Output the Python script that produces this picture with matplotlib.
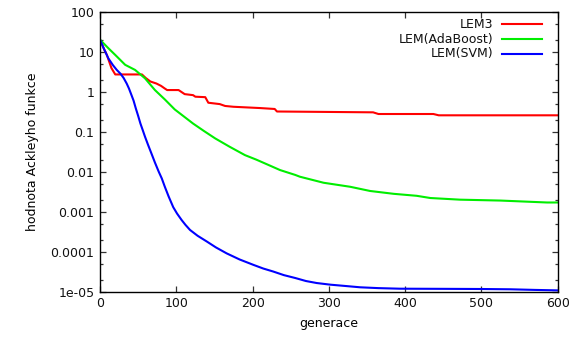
import matplotlib
matplotlib.use("Agg")
import matplotlib.pyplot as plt
from matplotlib.ticker import FixedLocator, FixedFormatter, LogLocator, NullFormatter
from matplotlib.lines import Line2D

# Best objective value found per generation
lem3_gen = [0, 5, 9, 15, 20, 55, 60, 66, 74, 80, 85, 88, 103, 111, 122, 125, 138, 142,
            157, 164, 175, 210, 229, 232, 358, 365, 437, 444, 600]
lem3_val = [20, 12, 8.3, 3.9, 2.7, 2.7, 2.2, 1.8, 1.6, 1.4, 1.2, 1.1, 1.1, 0.87, 0.82,
            0.75, 0.73, 0.53, 0.49, 0.44, 0.42, 0.39, 0.37, 0.32, 0.305, 0.277, 0.277,
            0.257, 0.257]

ada_gen = [0, 11, 20, 33, 46, 59, 72, 85, 98, 110, 122, 136, 151, 170, 190, 205, 221,
           236, 256, 262, 293, 328, 354, 385, 415, 433, 472, 525, 586, 600]
ada_val = [20, 12.2, 8.3, 4.7, 3.5, 2.16, 1.1, 0.64, 0.36, 0.24, 0.16, 0.105, 0.068,
           0.042, 0.026, 0.02, 0.0147, 0.011, 0.0083, 0.0075, 0.0053, 0.0042, 0.0033,
           0.0028, 0.0025, 0.0022, 0.0020, 0.0019, 0.0017, 0.0017]

svm_gen = [0, 5, 11, 17, 22, 27, 31, 35, 38, 41, 44, 47, 50, 53, 56, 59, 63, 67, 72,
           77, 81, 85, 90, 96, 101, 107, 112, 118, 128, 140, 152, 166, 183, 201, 214,
           227, 241, 256, 270, 284, 302, 320, 341, 365, 393, 450, 498, 538, 570, 600]
svm_val = [20, 12, 6.8, 4.6, 3.5, 2.8, 2.2, 1.6, 1.2, 0.85, 0.6, 0.38, 0.25, 0.16,
           0.11, 0.075, 0.047, 0.03, 0.017, 0.01, 0.0068, 0.0042, 0.0024, 0.0013,
           0.0009, 0.00062, 0.00047, 0.00035, 0.00025, 0.00018, 0.000128, 9.1e-5,
           6.4e-5, 4.7e-5, 3.8e-5, 3.2e-5, 2.6e-5, 2.2e-5, 1.85e-5, 1.65e-5, 1.5e-5,
           1.4e-5, 1.29e-5, 1.23e-5, 1.19e-5, 1.18e-5, 1.17e-5, 1.15e-5, 1.11e-5,
           1.08e-5]

series_labels = ["LEM3", "LEM(AdaBoost)", "LEM(SVM)"]
series_colors = ["#ff0000", "#00ee00", "#0000ff"]

y_ticks = [100, 10, 1, 0.1, 0.01, 0.001, 0.0001, 1e-5]
y_tick_labels = ["100", "10", "1", "0.1", "0.01", "0.001", "0.0001", "1e-05"]
x_ticks = [0, 100, 200, 300, 400, 500, 600]

plt.rcParams["font.family"] = ["DejaVu Sans"]
plt.rcParams["font.size"] = 9

fig = plt.figure(figsize=(5.82, 3.40), dpi=100)
ax = fig.add_axes([0.1718, 0.142, 0.7865, 0.8236])

lines = []
for gx, gy, lab, col in zip([lem3_gen, ada_gen, svm_gen],
                            [lem3_val, ada_val, svm_val],
                            series_labels, series_colors):
    ln, = ax.plot(gx, gy, color=col, lw=1.5, label=lab)
    lines.append(ln)

ax.set_yscale("log")
ax.set_xlim(0, 600)
ax.set_ylim(1e-5, 100)

ax.yaxis.set_major_locator(FixedLocator(y_ticks))
ax.yaxis.set_major_formatter(FixedFormatter(y_tick_labels))
ax.yaxis.set_minor_locator(LogLocator(base=10, subs=(2.0, 5.0), numticks=20))
ax.yaxis.set_minor_formatter(NullFormatter())
ax.xaxis.set_major_locator(FixedLocator(x_ticks))

ax.tick_params(which="both", direction="in", top=True, right=True,
               colors="#333333", labelcolor="#111111", width=0.9)
ax.tick_params(which="major", length=4.5, labelsize=9, pad=4)
ax.tick_params(which="minor", length=2.5)
for s in ax.spines.values():
    s.set_linewidth(1.0)
    s.set_color("black")

ax.set_xlabel("generace", fontsize=9, labelpad=5)
ax.set_ylabel("hodnota Ackleyho funkce", fontsize=9, labelpad=8)

# Key in the upper right: right-aligned names followed by line samples
rows_y = [0.955, 0.901, 0.849]
for ln, yy in zip(lines, rows_y):
    ax.text(0.8587, yy, ln.get_label(), transform=ax.transAxes,
            ha="right", va="center", fontsize=9, color="#111111")
    ax.add_line(Line2D([0.8774, 0.9661], [yy, yy], transform=ax.transAxes,
                       color=ln.get_color(), lw=1.5))

fig.savefig("out.png", dpi=100)
